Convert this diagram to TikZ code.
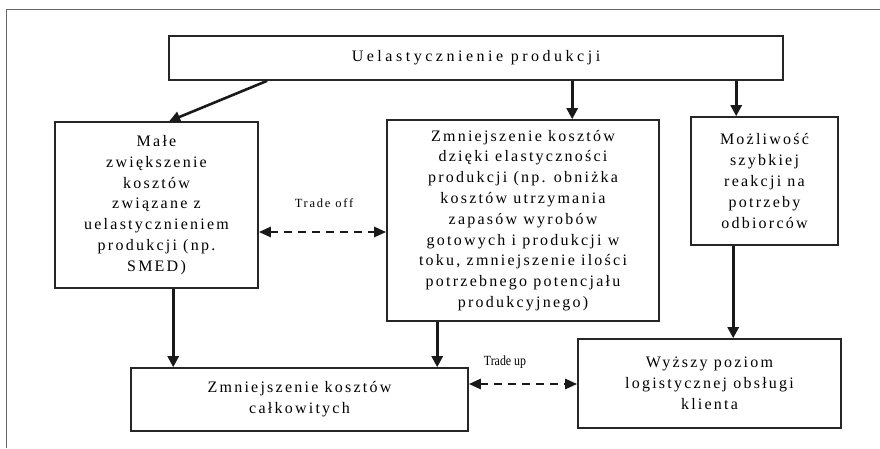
\documentclass[tikz,border=0pt]{standalone}
\usepackage{fontspec}
\setmainfont{Liberation Serif}[LetterSpace=14]
\newfontfamily\plainfont{Liberation Serif}
\newfontfamily\widefont{Liberation Serif}[LetterSpace=22]
\usetikzlibrary{arrows.meta,calc}
\begin{document}
\begin{tikzpicture}[x=1pt,y=1pt,
  box/.style={draw=black!85,line width=1.6pt,inner sep=0pt,align=center,
    font=\fontsize{16}{20.8}\selectfont},
  flow/.style={line width=2.6pt,black!90,-{Triangle[length=11pt,width=11pt]}},
  trade/.style={line width=2.6pt,black!90,dash pattern=on 8pt off 6pt,
    {Triangle[length=12pt,width=10pt]}-{Triangle[length=12pt,width=10pt]}},
  lab/.style={inner sep=0pt,font=\fontsize{12.5}{14}\selectfont}]
\useasboundingbox (0,0) rectangle (880,-448);
\draw[black!60,line width=0.9pt] (6,-448) -- (6,-9) -- (880,-9);
\node[box,minimum width=614pt,minimum height=44pt,font=\widefont\fontsize{16}{20.8}\selectfont] (top) at (476,-58) {Uelastycznienie produkcji};
\node[box,minimum width=203pt,minimum height=166pt] (left) at (156.5,-205)
  {Małe\\zwiększenie\\kosztów\\związane z\\uelastycznieniem\\produkcji (np.\\SMED)};
\node[box,minimum width=272pt,minimum height=201pt] (mid) at (523,-220.5)
  {Zmniejszenie kosztów\\dzięki elastyczności\\produkcji (np. obniżka\\kosztów utrzymania\\zapasów wyrobów\\gotowych i produkcji w\\toku, zmniejszenie ilości\\potrzebnego potencjału\\produkcyjnego)};
\node[box,minimum width=147pt,minimum height=128pt,text depth=0pt] (right) at (764.5,-181)
  {Możliwość\\szybkiej\\reakcji na\\potrzeby\\odbiorców};
\node[box,minimum width=337pt,minimum height=63pt] (bl) at (299.5,-399.5)
  {Zmniejszenie kosztów\\całkowitych};
\node[box,minimum width=263pt,minimum height=89pt] (br) at (709.5,-383.5)
  {Wyższy poziom\\logistycznej obsługi\\klienta};
\draw[flow] ([xshift=99pt]top.south west) -- ([xshift=115pt]left.north west);
\draw[flow] ([xshift=404pt]top.south west) -- ([xshift=186pt]mid.north west);
\draw[flow] ([xshift=568pt]top.south west) -- ([xshift=46pt]right.north west);
\draw[flow] ([xshift=119pt]left.south west) -- ([xshift=43pt]bl.north west);
\draw[flow] ([xshift=51pt]mid.south west) -- ([xshift=307pt]bl.north west);
\draw[flow] ([xshift=43pt]right.south west) -- ([xshift=156pt]br.north west);
\draw[trade] ([yshift=-27pt]left.east) -- ([yshift=-27pt]left.east -| mid.west);
\draw[trade] ([yshift=15.5pt]bl.east) -- ([yshift=15.5pt]bl.east -| br.west);
\node[lab] (toff) at (324,-203) {Trade off};
\node[lab,font=\plainfont\fontsize{14}{15}\selectfont] (tup) at (505,-362) {\scalebox{0.85}[1]{Trade up}};
\end{tikzpicture}
\end{document}
